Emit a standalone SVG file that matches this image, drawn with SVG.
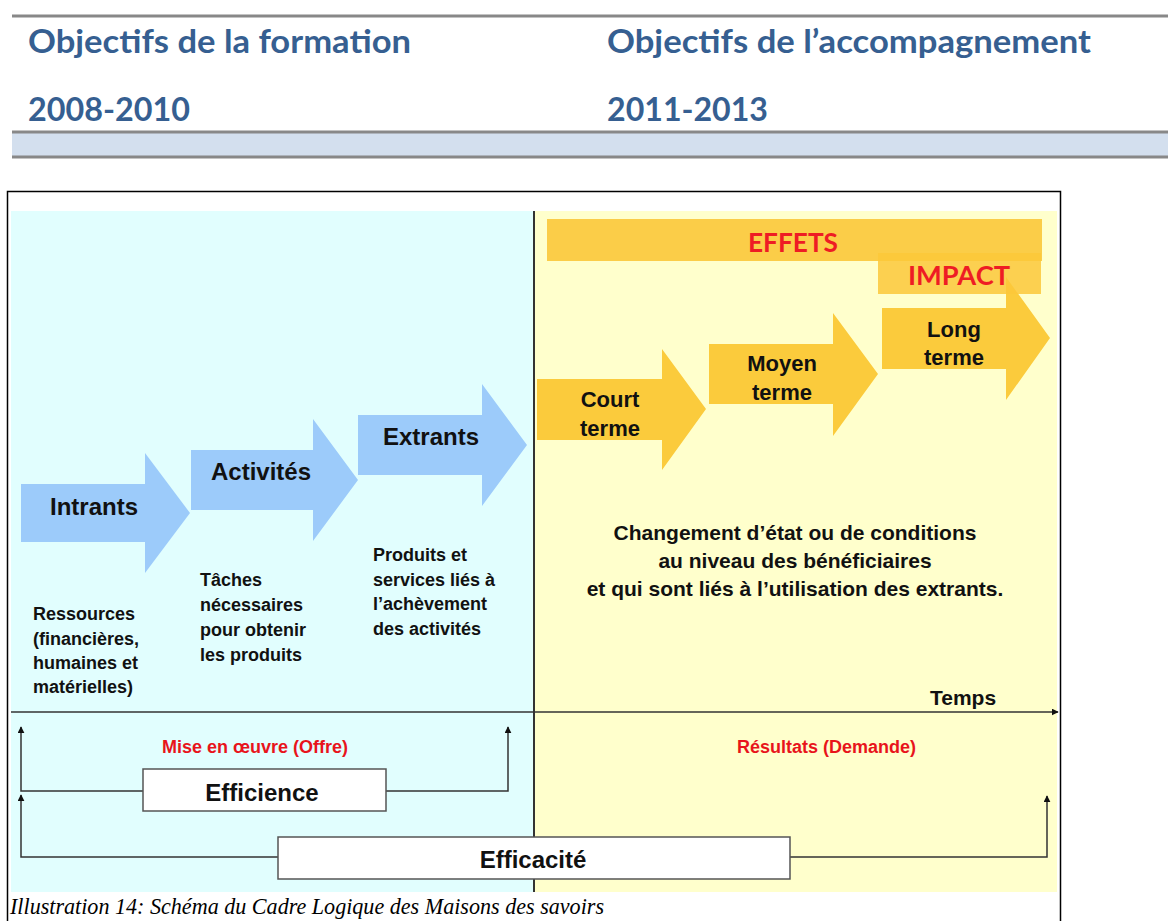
<svg xmlns="http://www.w3.org/2000/svg" width="1168" height="921" viewBox="0 0 1168 921">
<defs>
<style>
.hd{font-family:Lato,"Open Sans","Liberation Sans",sans-serif;font-weight:700;font-size:32px;fill:#365F91}
.t{font-family:"Liberation Sans",Arial,sans-serif;font-weight:700;fill:#111}
.big{font-size:24px}
.mid{font-size:22px}
.sm{font-size:18px}
.md{font-size:21px}
.red{font-family:"Liberation Sans",Arial,sans-serif;font-weight:700;font-size:18px;fill:#E8141B}
.ttl{font-family:Lato,"Liberation Sans",sans-serif;font-weight:700;font-size:26px;fill:#EE1C24}
.blue{fill:#9CCBFA}
.yel{fill:#FBCB3C}
.bar{fill:#FBC83A;opacity:0.9}
.box{fill:#fff;stroke:#555;stroke-width:1.5}
.ln{fill:none;stroke:#333;stroke-width:1.5}
.gl{stroke:#888;stroke-width:3}
</style>
<marker id="ah" viewBox="0 0 10 10" refX="9" refY="5" markerWidth="7" markerHeight="7" orient="auto-start-reverse" markerUnits="userSpaceOnUse">
<path d="M0,0 L10,5 L0,10 z" fill="#111"/>
</marker>
</defs>
<rect width="1168" height="921" fill="#fff"/>

<g id="header">
<line class="gl" x1="12" y1="16" x2="1168" y2="16"/>
<text class="hd" x="28" y="53" textLength="383" lengthAdjust="spacingAndGlyphs">Objectifs de la formation</text>
<text class="hd" x="28" y="121" textLength="162" lengthAdjust="spacingAndGlyphs">2008-2010</text>
<text class="hd" x="607" y="53" textLength="484" lengthAdjust="spacingAndGlyphs">Objectifs de l’accompagnement</text>
<text class="hd" x="607" y="121" textLength="161" lengthAdjust="spacingAndGlyphs">2011-2013</text>
<rect x="12" y="133" width="1156" height="23" fill="#D3DFEE"/>
<line class="gl" x1="12" y1="132" x2="1168" y2="132"/>
<line class="gl" x1="12" y1="157" x2="1168" y2="157"/>
</g>

<g id="frame">
<path d="M7.5,925 V191.5 H1060.5 V925" fill="none" stroke="#000" stroke-width="1.5"/>
<rect x="11" y="211" width="523" height="681" fill="#E1FEFE"/>
<rect x="535" y="211" width="522" height="681" fill="#FFFFCC"/>
<line x1="534" y1="211" x2="534" y2="892" stroke="#333" stroke-width="2"/>
</g>

<g id="intrants">
<polygon class="blue" points="21,484 145,484 145,453 190,513 145,573 145,542 21,542"/>
<text class="t big" x="94" y="515" text-anchor="middle">Intrants</text>
</g>
<g id="activites">
<polygon class="blue" points="191,450 313,450 313,419 358,480 313,541 313,510 191,510"/>
<text class="t big" x="261" y="480" text-anchor="middle">Activités</text>
</g>
<g id="extrants">
<polygon class="blue" points="358,415 482,415 482,384 527,445 482,506 482,475 358,475"/>
<text class="t big" x="431" y="445" text-anchor="middle">Extrants</text>
</g>

<g id="court-terme">
<polygon class="yel" points="537,379 662,379 662,349 706,409 662,470 662,440 537,440"/>
<text class="t mid" x="610" y="407" text-anchor="middle">Court</text>
<text class="t mid" x="610" y="436" text-anchor="middle">terme</text>
</g>
<g id="moyen-terme">
<polygon class="yel" points="709,344 833,344 833,313 878,374 833,436 833,404 709,404"/>
<text class="t mid" x="782" y="371" text-anchor="middle">Moyen</text>
<text class="t mid" x="782" y="400" text-anchor="middle">terme</text>
</g>
<g id="long-terme">
<polygon class="yel" points="882,308 1006,308 1006,277 1050,338 1006,400 1006,369 882,369"/>
<text class="t mid" x="954" y="337" text-anchor="middle">Long</text>
<text class="t mid" x="954" y="365" text-anchor="middle">terme</text>
</g>

<g id="effets">
<rect class="bar" x="547" y="219" width="495" height="42"/>
<text class="ttl" x="793" y="252" text-anchor="middle" textLength="90" lengthAdjust="spacingAndGlyphs">EFFETS</text>
</g>
<g id="impact">
<rect class="bar" x="878" y="253" width="163" height="41" style="opacity:0.85"/>
<text class="ttl" x="959" y="285" text-anchor="middle" textLength="102" lengthAdjust="spacingAndGlyphs">IMPACT</text>
</g>

<g id="desc-intrants">
<text class="t sm" x="33" y="620">Ressources</text>
<text class="t sm" x="33" y="645">(financières,</text>
<text class="t sm" x="33" y="669">humaines et</text>
<text class="t sm" x="33" y="693">matérielles)</text>
</g>
<g id="desc-activites">
<text class="t sm" x="200" y="586">Tâches</text>
<text class="t sm" x="200" y="611">nécessaires</text>
<text class="t sm" x="200" y="636">pour obtenir</text>
<text class="t sm" x="200" y="661">les produits</text>
</g>
<g id="desc-extrants">
<text class="t sm" x="373" y="561">Produits et</text>
<text class="t sm" x="373" y="586">services liés à</text>
<text class="t sm" x="373" y="610">l’achèvement</text>
<text class="t sm" x="373" y="635">des activités</text>
</g>
<g id="desc-effets">
<text class="t md" x="795" y="540" text-anchor="middle">Changement d’état ou de conditions</text>
<text class="t md" x="795" y="568" text-anchor="middle">au niveau des bénéficiaires</text>
<text class="t md" x="795" y="596" text-anchor="middle">et qui sont liés à l’utilisation des extrants.</text>
</g>

<g id="temps">
<text class="t md" x="930" y="705">Temps</text>
</g>
<g id="mise-en-oeuvre">
<text class="red" x="162" y="753">Mise en œuvre (Offre)</text>
</g>
<g id="resultats">
<text class="red" x="737" y="753">Résultats (Demande)</text>
</g>

<g id="connectors">
<line class="ln" x1="11" y1="712" x2="1058" y2="712" marker-end="url(#ah)"/>
<polyline class="ln" points="143,791 21,791 21,727" marker-end="url(#ah)"/>
<polyline class="ln" points="386,791 508,791 508,727" marker-end="url(#ah)"/>
<polyline class="ln" points="278,857 21,857 21,795" marker-end="url(#ah)"/>
<polyline class="ln" points="790,857 1047,857 1047,796" marker-end="url(#ah)"/>
</g>

<g id="efficience">
<rect class="box" x="143" y="769" width="243" height="42"/>
<text class="t big" x="262" y="801" text-anchor="middle">Efficience</text>
</g>
<g id="efficacite">
<rect class="box" x="278" y="837" width="512" height="42"/>
<text class="t big" x="533" y="868" text-anchor="middle">Efficacité</text>
</g>

<g id="caption">
<text x="10" y="914" font-family="'Liberation Serif','Times New Roman',serif" font-style="italic" font-size="23" fill="#000" textLength="594" lengthAdjust="spacingAndGlyphs">Illustration 14: Schéma du Cadre Logique des Maisons des savoirs</text>
</g>
</svg>
